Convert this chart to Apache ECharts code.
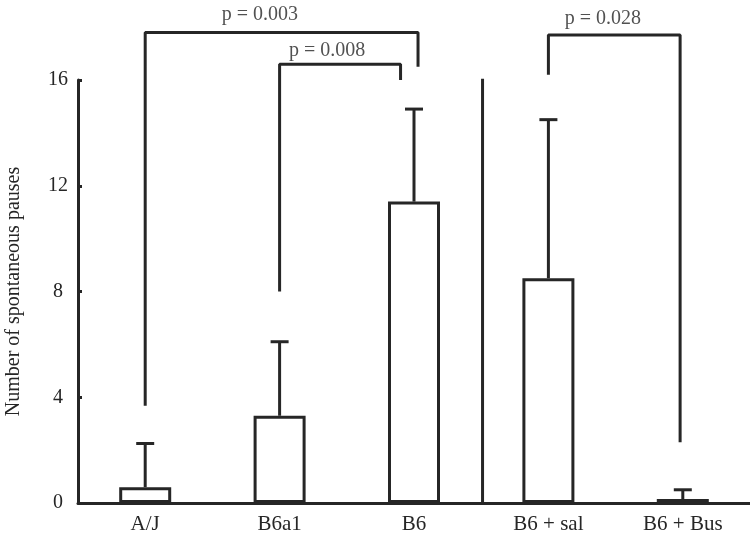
<!DOCTYPE html>
<html>
<head>
<meta charset="utf-8">
<script src="https://cdn.jsdelivr.net/npm/echarts@6/dist/echarts.min.js"></script>
<style>
  html, body { margin: 0; padding: 0; background: #fff; }
  #chart { width: 750px; height: 555px; }
</style>
</head>
<body>
<div id="chart"></div>
<script>
const categories = ['A/J', 'B6a1', 'B6', 'B6 + sal', 'B6 + Bus']
const means = [0.6, 3.3, 11.4, 8.5, 0.15]
const errTops = [2.25, 6.1, 14.9, 14.5, 0.5]
const yTicks = [0, 4, 8, 12, 16]

// brackets: [x, y] points in category-index units
const bracket003 = [[0, 3.68], [0, 17.8], [2.03, 17.8], [2.03, 16.5]]
const bracket008 = [[1, 8], [1, 16.6], [1.9, 16.6], [1.9, 16]]
const bracket028 = [[3, 16.2], [3, 17.7], [3.98, 17.7], [3.98, 2.3]]
const separator = [[2.51, 0], [2.51, 16.05]]
const pLabels = [
  [0.854, 18.45, 'p = 0.003'],
  [1.353, 17.1, 'p = 0.008'],
  [3.406, 18.3, 'p = 0.028']
]

const ink = '#262626'
const font = 'Liberation Serif'

const chart = echarts.init(document.getElementById('chart'))

function lineSeries(data) {
  return {
    type: 'line',
    xAxisIndex: 1,
    data,
    symbol: 'none',
    clip: false,
    silent: true,
    lineStyle: { color: ink, width: 3 },
    z: 4
  }
}

chart.setOption({
  animation: false,
  grid: { left: 78, right: 0, top: 80, bottom: 52, outerBoundsMode: 'none', containLabel: false },
  xAxis: [
    {
      type: 'category',
      data: categories,
      axisLine: { lineStyle: { color: ink, width: 3 } },
      axisTick: { show: false },
      axisLabel: { color: ink, fontFamily: font, fontSize: 21, margin: 11, interval: 0 }
    },
    {
      type: 'value',
      min: -0.5,
      max: 4.5,
      show: false
    }
  ],
  yAxis: {
    type: 'value',
    min: 0,
    max: 16,
    interval: 4,
    name: 'Number of spontaneous pauses',
    nameLocation: 'middle',
    nameGap: 54,
    nameTextStyle: { color: ink, fontFamily: font, fontSize: 20 },
    axisLine: { show: true, onZero: false, lineStyle: { color: ink, width: 3 } },
    axisTick: { show: true, inside: true, length: 4, lineStyle: { color: ink, width: 3 } },
    splitLine: { show: false },
    axisLabel: {
      color: ink,
      fontFamily: font,
      fontSize: 20,
      margin: 20,
      align: 'center',
      formatter: (v) => (yTicks.includes(v) ? String(v) : '')
    }
  },
  series: [
    {
      type: 'bar',
      data: means,
      barWidth: 52,
      itemStyle: { color: '#fff', borderColor: ink, borderWidth: 3 },
      z: 2
    },
    {
      type: 'custom',
      data: means.map((m, i) => [i, m, errTops[i]]),
      renderItem: (params, api) => {
        const base = api.coord([api.value(0), api.value(1)])
        const top = api.coord([api.value(0), api.value(2)])
        const style = { stroke: ink, lineWidth: 3 }
        return {
          type: 'group',
          children: [
            { type: 'line', shape: { x1: base[0], y1: base[1], x2: top[0], y2: top[1] }, style },
            { type: 'line', shape: { x1: top[0] - 9, y1: top[1], x2: top[0] + 9, y2: top[1] }, style }
          ]
        }
      },
      z: 3
    },
    lineSeries(bracket003),
    lineSeries(bracket008),
    lineSeries(bracket028),
    lineSeries(separator),
    {
      type: 'scatter',
      xAxisIndex: 1,
      data: pLabels,
      symbolSize: 0,
      clip: false,
      silent: true,
      label: {
        show: true,
        position: 'inside',
        formatter: (p) => p.value[2],
        color: ink,
        fontFamily: font,
        fontSize: 20
      }
    }
  ]
})
</script>
</body>
</html>
